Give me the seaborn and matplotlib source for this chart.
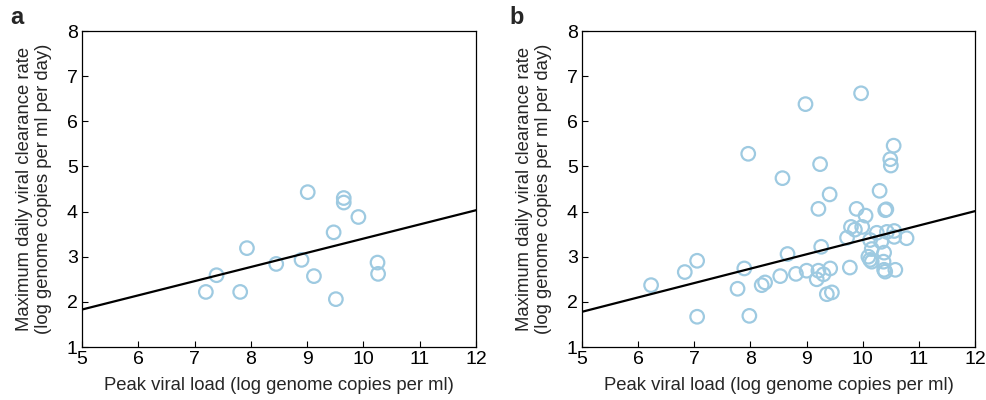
import numpy as np
import matplotlib
matplotlib.use("Agg")
import matplotlib.pyplot as plt
import seaborn as sns

# -----------------------------
# Data
# -----------------------------
peak_a = [7.20, 7.39, 7.81, 7.93, 8.45, 8.90, 9.01, 9.12, 9.47, 9.51,
          9.65, 9.65, 9.91, 10.25, 10.26]
rate_a = [2.22, 2.59, 2.22, 3.19, 2.84, 2.93, 4.43, 2.57, 3.54, 2.06,
          4.30, 4.20, 3.88, 2.87, 2.62]

peak_b = [6.23, 6.83, 7.05, 7.05, 7.77, 7.89, 7.98, 7.96, 8.20, 8.26,
          8.53, 8.57, 8.66, 8.81, 8.98, 9.00, 9.18, 9.21, 9.21, 9.24,
          9.26, 9.30, 9.42, 9.36, 9.45, 9.41, 9.72, 9.77, 9.79, 9.86,
          9.89, 9.97, 9.99, 10.05, 10.10, 10.13, 10.16, 10.13, 10.16, 10.25,
          10.30, 10.33, 10.38, 10.37, 10.38, 10.40, 10.40, 10.42, 10.43, 10.56,
          10.56, 10.58, 10.78, 10.55, 10.49, 10.50]
rate_b = [2.37, 2.66, 2.91, 1.67, 2.29, 2.74, 1.69, 5.28, 2.37, 2.43,
          2.57, 4.74, 3.06, 2.62, 6.38, 2.69, 2.50, 2.69, 4.06, 5.05,
          3.22, 2.61, 2.74, 2.17, 2.21, 4.38, 3.42, 2.76, 3.66, 3.60,
          4.06, 6.62, 3.66, 3.91, 3.00, 2.93, 2.89, 3.37, 3.17, 3.53,
          4.46, 3.33, 3.09, 2.89, 2.71, 2.67, 4.03, 4.05, 3.55, 3.57,
          3.44, 2.71, 3.41, 5.46, 5.16, 5.02]

# regression lines (end points)
fit_x = [5, 12]
fit_a = [1.83, 4.03]
fit_b = [1.78, 4.01]

panel_labels = ["a", "b"]
xlabel = "Peak viral load (log genome copies per ml)"
ylabel = "Maximum daily viral clearance rate\n(log genome copies per ml per day)"

sns.set_style("ticks")
plt.rcParams['font.family'] = ['Liberation Sans', 'DejaVu Sans']

point_color = "#9ecae1"

fig = plt.figure(figsize=(9.87, 4.0), dpi=100)
ax_a = fig.add_axes([0.0831, 0.1325, 0.3992, 0.79])
ax_b = fig.add_axes([0.5897, 0.1325, 0.3982, 0.79])

for ax, px, py, fy in [(ax_a, peak_a, rate_a, fit_a),
                       (ax_b, peak_b, rate_b, fit_b)]:
    sns.scatterplot(x=px, y=py, ax=ax, s=95, facecolor="none",
                    edgecolor=point_color, linewidth=1.6, zorder=2)
    sns.lineplot(x=fit_x, y=fy, ax=ax, color="black", linewidth=1.6, zorder=3)

    ax.set_xlim(5, 12)
    ax.set_ylim(1, 8)
    ax.set_xticks(range(5, 13))
    ax.set_yticks(range(1, 9))
    ax.tick_params(direction="in", length=4, width=0.8, labelsize=14,
                   top=False, right=False, pad=3, colors="black")
    for sp in ax.spines.values():
        sp.set_visible(True)
        sp.set_color("black")
        sp.set_linewidth(0.9)
    ax.set_xlabel(xlabel, fontsize=13.3, labelpad=6)
    ax.set_ylabel(ylabel, fontsize=13.3, labelpad=11, linespacing=1.12)

fig.text(0.010, 0.955, panel_labels[0], fontsize=17, fontweight="bold", va="center")
fig.text(0.516, 0.955, panel_labels[1], fontsize=17, fontweight="bold", va="center")

fig.savefig("out.png", dpi=100)
plt.close(fig)
